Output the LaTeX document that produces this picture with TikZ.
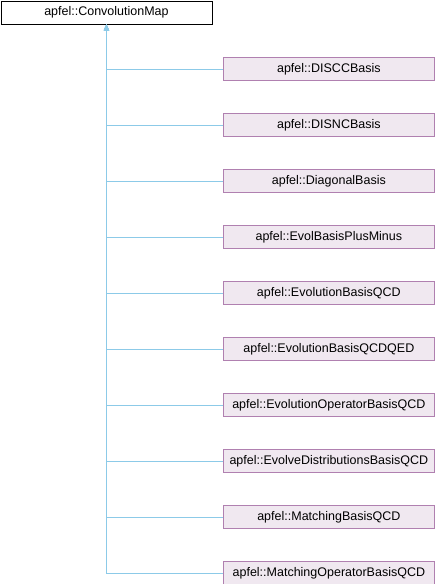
\documentclass[tikz,border=0pt]{standalone}
\usepackage{fontspec}
\setmainfont{Liberation Sans}
\usepackage{xcolor}
\usepackage{tikz}
\usetikzlibrary{positioning,arrows.meta}

\definecolor{edgeblue}{RGB}{140,202,232}
\definecolor{childline}{RGB}{176,128,176}
\definecolor{childfill}{RGB}{240,232,240}

\tikzset{
    basebox/.style={draw=black, fill=white, line width=0.9pt, rectangle, minimum width=211pt, minimum height=23pt, inner sep=0pt, font=\fontsize{12.5}{14}\selectfont},
    childbox/.style={draw=childline, fill=childfill, line width=0.9pt, rectangle, minimum width=211pt, minimum height=22.5pt, inner sep=0pt, font=\fontsize{12.5}{14}\selectfont},
    edge/.style={draw=edgeblue, line width=0.9pt, -{Triangle[length=6pt,width=5pt,fill=edgeblue]}}
}

\begin{document}
\begin{tikzpicture}[node distance=32.6pt]
    \useasboundingbox (0,0) rectangle (434pt,-584pt);
    \node[basebox, anchor=north west] (CM) at (0.5pt,-0.5pt) {apfel::ConvolutionMap};
    \node[childbox, below right=33pt and 10.5pt of CM.south east] (DISCC) {apfel::DISCCBasis};
    \node[childbox, below=of DISCC] (DISNC) {apfel::DISNCBasis};
    \node[childbox, below=of DISNC] (Diag) {apfel::DiagonalBasis};
    \node[childbox, below=of Diag] (EvolPM) {apfel::EvolBasisPlusMinus};
    \node[childbox, below=of EvolPM] (EvolQCD) {apfel::EvolutionBasisQCD};
    \node[childbox, below=of EvolQCD] (EvolQED) {apfel::EvolutionBasisQCDQED};
    \node[childbox, below=of EvolQED] (EvolOp) {apfel::EvolutionOperatorBasisQCD};
    \node[childbox, below=of EvolOp] (EvolDist) {apfel::EvolveDistributionsBasisQCD};
    \node[childbox, below=of EvolDist] (Match) {apfel::MatchingBasisQCD};
    \node[childbox, below=of Match] (MatchOp) {apfel::MatchingOperatorBasisQCD};

    % every derived class points back to the base
    \draw[edge] (DISCC) -| (CM);
    \draw[edge] (DISNC) -| (CM);
    \draw[edge] (Diag) -| (CM);
    \draw[edge] (EvolPM) -| (CM);
    \draw[edge] (EvolQCD) -| (CM);
    \draw[edge] (EvolQED) -| (CM);
    \draw[edge] (EvolOp) -| (CM);
    \draw[edge] (EvolDist) -| (CM);
    \draw[edge] (Match) -| (CM);
    \draw[edge] (MatchOp) -| (CM);
\end{tikzpicture}
\end{document}
